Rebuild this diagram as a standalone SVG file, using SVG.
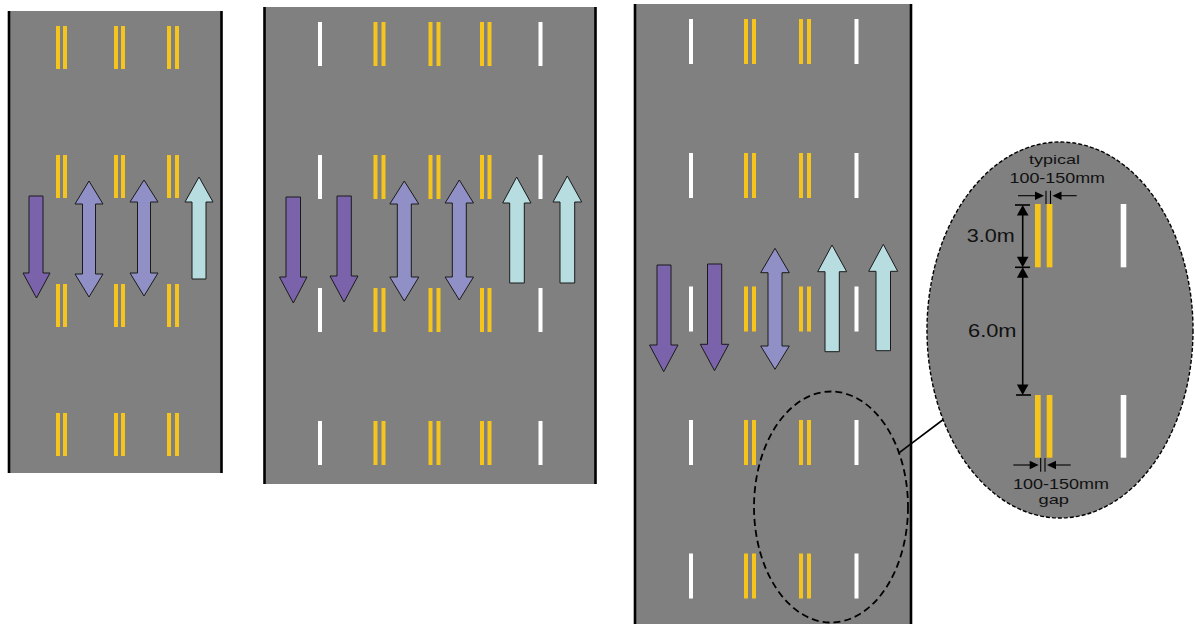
<svg xmlns="http://www.w3.org/2000/svg" width="1195" height="624" viewBox="0 0 1195 624">
<style>
.road{fill:#808080}
.edge{stroke:#000;stroke-width:2.6;fill:none}
.y{fill:#F6C51D}
.w{fill:#FFFFFF}
.dn{fill:#7A63AB;stroke:#1a1a1a;stroke-width:1}
.bi{fill:#9090C7;stroke:#1a1a1a;stroke-width:1}
.up{fill:#B8DDE0;stroke:#1a1a1a;stroke-width:1}
.dim{stroke:#000;stroke-width:1.6;fill:none}
.thin{stroke:#000;stroke-width:1.1;fill:none}
.ah{fill:#000}
.lbl{font-family:"Liberation Sans",Arial,sans-serif;fill:#111}
</style>
<rect width="1195" height="624" fill="#fff"/>

<g id="road1">
<rect class="road" x="8" y="11" width="214" height="462"/>
<line class="edge" x1="9" y1="11" x2="9" y2="473"/>
<line class="edge" x1="221.5" y1="11" x2="221.5" y2="473"/>
<g id="road1-marks">
<rect class="y" x="56" y="26" width="4" height="43"/><rect class="y" x="63" y="26" width="4" height="43"/>
<rect class="y" x="114" y="26" width="4" height="43"/><rect class="y" x="121" y="26" width="4" height="43"/>
<rect class="y" x="167" y="26" width="4" height="43"/><rect class="y" x="175" y="26" width="4" height="43"/>
<rect class="y" x="56" y="155" width="4" height="43"/><rect class="y" x="63" y="155" width="4" height="43"/>
<rect class="y" x="114" y="155" width="4" height="43"/><rect class="y" x="121" y="155" width="4" height="43"/>
<rect class="y" x="167" y="155" width="4" height="43"/><rect class="y" x="175" y="155" width="4" height="43"/>
<rect class="y" x="56" y="284" width="4" height="43"/><rect class="y" x="63" y="284" width="4" height="43"/>
<rect class="y" x="114" y="284" width="4" height="43"/><rect class="y" x="121" y="284" width="4" height="43"/>
<rect class="y" x="167" y="284" width="4" height="43"/><rect class="y" x="175" y="284" width="4" height="43"/>
<rect class="y" x="56" y="413" width="4" height="43"/><rect class="y" x="63" y="413" width="4" height="43"/>
<rect class="y" x="114" y="413" width="4" height="43"/><rect class="y" x="121" y="413" width="4" height="43"/>
<rect class="y" x="167" y="413" width="4" height="43"/><rect class="y" x="175" y="413" width="4" height="43"/>
</g>
<path id="r1-a1" class="dn" d="M29,196 H43 V273 H50 L36.5,298 L23,273 H29 Z"/>
<path id="r1-a2" class="bi" d="M89,181 L103,204 H95.5 V274 H103 L89,297 L75,274 H82.5 V204 H75 Z"/>
<path id="r1-a3" class="bi" d="M144,180 L158,202 H150.5 V273 H158 L144,296 L130,273 H137.5 V202 H130 Z"/>
<path id="r1-a4" class="up" d="M199,177 L213,202 H206 V279 H192 V202 H185 Z"/>
</g>

<g id="road2">
<rect class="road" x="264" y="7" width="331" height="477"/>
<line class="edge" x1="264.5" y1="7" x2="264.5" y2="484"/>
<line class="edge" x1="595.5" y1="7" x2="595.5" y2="484"/>
<g id="road2-marks">
<rect class="w" x="318" y="22" width="4" height="44"/><rect class="w" x="538.5" y="22" width="4" height="44"/>
<rect class="y" x="373.5" y="22" width="4" height="44"/><rect class="y" x="381.5" y="22" width="4" height="44"/>
<rect class="y" x="428.5" y="22" width="4" height="44"/><rect class="y" x="436.5" y="22" width="4" height="44"/>
<rect class="y" x="480" y="22" width="4" height="44"/><rect class="y" x="487.5" y="22" width="4" height="44"/>
<rect class="w" x="318" y="155" width="4" height="44"/><rect class="w" x="538.5" y="155" width="4" height="44"/>
<rect class="y" x="373.5" y="155" width="4" height="44"/><rect class="y" x="381.5" y="155" width="4" height="44"/>
<rect class="y" x="428.5" y="155" width="4" height="44"/><rect class="y" x="436.5" y="155" width="4" height="44"/>
<rect class="y" x="480" y="155" width="4" height="44"/><rect class="y" x="487.5" y="155" width="4" height="44"/>
<rect class="w" x="318" y="288" width="4" height="44"/><rect class="w" x="538.5" y="288" width="4" height="44"/>
<rect class="y" x="373.5" y="288" width="4" height="44"/><rect class="y" x="381.5" y="288" width="4" height="44"/>
<rect class="y" x="428.5" y="288" width="4" height="44"/><rect class="y" x="436.5" y="288" width="4" height="44"/>
<rect class="y" x="480" y="288" width="4" height="44"/><rect class="y" x="487.5" y="288" width="4" height="44"/>
<rect class="w" x="318" y="421" width="4" height="44"/><rect class="w" x="538.5" y="421" width="4" height="44"/>
<rect class="y" x="373.5" y="421" width="4" height="44"/><rect class="y" x="381.5" y="421" width="4" height="44"/>
<rect class="y" x="428.5" y="421" width="4" height="44"/><rect class="y" x="436.5" y="421" width="4" height="44"/>
<rect class="y" x="480" y="421" width="4" height="44"/><rect class="y" x="487.5" y="421" width="4" height="44"/>
</g>
<path id="r2-a1" class="dn" d="M286,197 H300.5 V277 H307 L293.3,303 L279.5,277 H286 Z"/>
<path id="r2-a2" class="dn" d="M337,196 H351.3 V276 H358 L344,302 L330,276 H337 Z"/>
<path id="r2-a3" class="bi" d="M404.3,181 L418.8,204 H411.3 V277 H418.8 L404.3,301 L389.8,277 H397.3 V204 H389.8 Z"/>
<path id="r2-a4" class="bi" d="M459.3,180 L473.5,203 H466.3 V277 H473.5 L459.3,300 L445.1,277 H452.3 V203 H445.1 Z"/>
<path id="r2-a5" class="up" d="M516.7,177 L531,203 H524.3 V283 H509.7 V203 H502.7 Z"/>
<path id="r2-a6" class="up" d="M567.3,176 L581.7,202 H574.7 V283 H560 V202 H553 Z"/>
</g>

<g id="road3">
<rect class="road" x="634" y="4" width="277" height="622"/>
<line class="edge" x1="635" y1="4" x2="635" y2="626"/>
<line class="edge" x1="911" y1="4" x2="911" y2="626"/>
<g id="road3-marks">
<rect class="w" x="689" y="19" width="4" height="45"/><rect class="w" x="854.5" y="19" width="4" height="45"/>
<rect class="y" x="744" y="19" width="4" height="45"/><rect class="y" x="752" y="19" width="4" height="45"/>
<rect class="y" x="799" y="19" width="4" height="45"/><rect class="y" x="807" y="19" width="4" height="45"/>
<rect class="w" x="689" y="153" width="4" height="45"/><rect class="w" x="854.5" y="153" width="4" height="45"/>
<rect class="y" x="744" y="153" width="4" height="45"/><rect class="y" x="752" y="153" width="4" height="45"/>
<rect class="y" x="799" y="153" width="4" height="45"/><rect class="y" x="807" y="153" width="4" height="45"/>
<rect class="w" x="689" y="286.5" width="4" height="45"/><rect class="w" x="854.5" y="286.5" width="4" height="45"/>
<rect class="y" x="744" y="286.5" width="4" height="45"/><rect class="y" x="752" y="286.5" width="4" height="45"/>
<rect class="y" x="799" y="286.5" width="4" height="45"/><rect class="y" x="807" y="286.5" width="4" height="45"/>
<rect class="w" x="689" y="420" width="4" height="45"/><rect class="w" x="854.5" y="420" width="4" height="45"/>
<rect class="y" x="744" y="420" width="4" height="45"/><rect class="y" x="752" y="420" width="4" height="45"/>
<rect class="y" x="799" y="420" width="4" height="45"/><rect class="y" x="807" y="420" width="4" height="45"/>
<rect class="w" x="689" y="553.5" width="4" height="45"/><rect class="w" x="854.5" y="553.5" width="4" height="45"/>
<rect class="y" x="744" y="553.5" width="4" height="45"/><rect class="y" x="752" y="553.5" width="4" height="45"/>
<rect class="y" x="799" y="553.5" width="4" height="45"/><rect class="y" x="807" y="553.5" width="4" height="45"/>
</g>
<path id="r3-a1" class="dn" d="M657,265 H671 V345 H678 L663.7,371.7 L649.5,345 H657 Z"/>
<path id="r3-a2" class="dn" d="M707.5,264 H721.7 V344.3 H728.7 L714.5,370.7 L700.3,344.3 H707.5 Z"/>
<path id="r3-a3" class="bi" d="M775,248.3 L789.3,272.7 H782 V346 H789.3 L775,369.3 L760.7,346 H768 V272.7 H760.7 Z"/>
<path id="r3-a4" class="up" d="M832,245 L846.7,271.7 H839.3 V351.7 H825 V271.7 H817.7 Z"/>
<path id="r3-a5" class="up" d="M883.3,244.3 L897.7,271.3 H890.5 V350.7 H876 V271.3 H868.7 Z"/>
<ellipse id="focus" cx="831" cy="507" rx="77" ry="115.5" fill="none" stroke="#000" stroke-width="1.8" stroke-dasharray="7,4"/>
</g>

<g id="connectors">
<line x1="898.3" y1="453.3" x2="944" y2="419" stroke="#000" stroke-width="1.6"/>
</g>

<g id="detail">
<ellipse cx="1060" cy="330" rx="133" ry="188" class="road" stroke="#000" stroke-width="1.4" stroke-dasharray="4,2"/>
<rect class="y" x="1035" y="204" width="5.7" height="63.3"/><rect class="y" x="1046.7" y="204" width="5.7" height="63.3"/>
<rect class="w" x="1120.7" y="204" width="5.6" height="63.3"/>
<rect class="y" x="1035" y="395" width="5.7" height="62.7"/><rect class="y" x="1046.7" y="395" width="5.7" height="62.7"/>
<rect class="w" x="1120.7" y="395" width="5.6" height="62.7"/>

<g id="dim-vertical">
<line class="dim" x1="1015" y1="205" x2="1030" y2="205"/>
<line class="dim" x1="1015" y1="267.3" x2="1030" y2="267.3"/>
<line class="dim" x1="1016" y1="395" x2="1031" y2="395"/>
<line class="dim" x1="1022.7" y1="212" x2="1022.7" y2="260"/>
<line class="dim" x1="1022.7" y1="275" x2="1022.7" y2="388"/>
<path class="ah" d="M1022.7,205 L1028.5,215.5 L1016.9,215.5 Z"/>
<path class="ah" d="M1022.7,267.3 L1028.5,256.8 L1016.9,256.8 Z"/>
<path class="ah" d="M1022.7,267.3 L1028.5,277.8 L1016.9,277.8 Z"/>
<path class="ah" d="M1022.7,395 L1028.5,384.5 L1016.9,384.5 Z"/>
</g>

<g id="dim-top">
<line class="thin" x1="1046" y1="190.7" x2="1046" y2="204"/>
<line class="thin" x1="1050.5" y1="190.7" x2="1050.5" y2="204"/>
<line class="thin" x1="1018" y1="195.7" x2="1036" y2="195.7"/>
<line class="thin" x1="1059" y1="195.7" x2="1076.7" y2="195.7"/>
<path class="ah" d="M1044,195.7 L1035,191.5 L1035,199.9 Z"/>
<path class="ah" d="M1052.5,195.7 L1061.5,191.5 L1061.5,199.9 Z"/>
</g>

<g id="dim-bottom">
<line class="thin" x1="1040.7" y1="458" x2="1040.7" y2="471.7"/>
<line class="thin" x1="1045" y1="458" x2="1045" y2="471.7"/>
<line class="thin" x1="1013.3" y1="465" x2="1031" y2="465"/>
<line class="thin" x1="1054" y1="465" x2="1070.7" y2="465"/>
<path class="ah" d="M1038.7,465 L1029.7,460.8 L1029.7,469.2 Z"/>
<path class="ah" d="M1047,465 L1056,460.8 L1056,469.2 Z"/>
</g>

<text class="lbl" x="966.7" y="241.7" font-size="18" textLength="48" lengthAdjust="spacingAndGlyphs">3.0m</text>
<text class="lbl" x="968" y="336.7" font-size="18" textLength="48.5" lengthAdjust="spacingAndGlyphs">6.0m</text>
<text class="lbl" x="1029" y="164" font-size="13.5" textLength="51" lengthAdjust="spacingAndGlyphs">typical</text>
<text class="lbl" x="1009.5" y="183.3" font-size="14.5" textLength="95.5" lengthAdjust="spacingAndGlyphs">100-150mm</text>
<text class="lbl" x="1013" y="488.5" font-size="14" textLength="96" lengthAdjust="spacingAndGlyphs">100-150mm</text>
<text class="lbl" x="1038.5" y="503.5" font-size="13" textLength="30.5" lengthAdjust="spacingAndGlyphs">gap</text>
</g>
</svg>
